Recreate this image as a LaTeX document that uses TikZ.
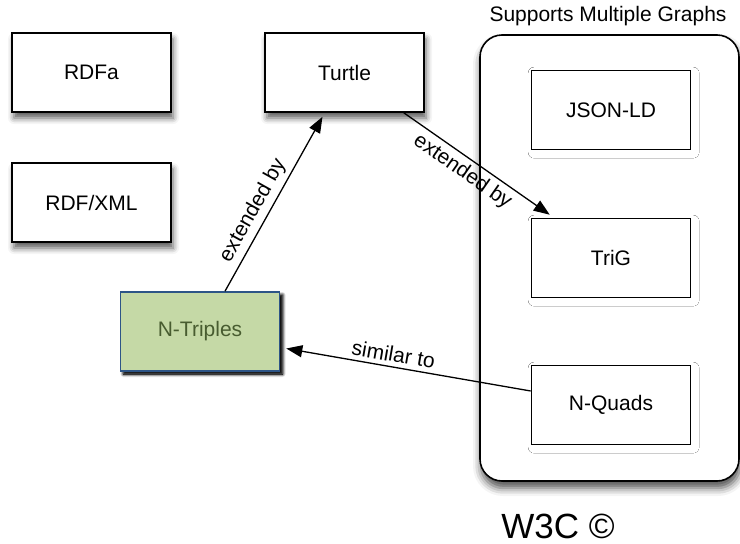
\documentclass[tikz,border=0pt]{standalone}
\usepackage{fontspec}
\setmainfont{Liberation Sans}
\usetikzlibrary{arrows.meta,shadows.blur}

\definecolor{ntfill}{RGB}{197,217,166}
\definecolor{ntedge}{RGB}{45,85,135}
\definecolor{nttext}{RGB}{72,92,48}

\tikzset{
	fmt/.style = {draw, line width=1.6pt, fill=white, minimum width=159pt, minimum height=79pt,
		font=\fontsize{21}{24}\selectfont,
		blur shadow={shadow xshift=2pt, shadow yshift=-6pt, shadow blur radius=6pt, shadow opacity=65}},
	rel/.style  = {->, line width=1.3pt},
	lbl/.style  = {font=\fontsize{21}{24}\selectfont, sloped}
}

\begin{document}
\begin{tikzpicture}[x=1pt, y=-1pt, >={Triangle[length=16pt, width=12pt]}]
	\useasboundingbox (0,0) rectangle (740,544);

	% the container for formats with several graphs
	\node (graphs) at (609.5, 258) [draw, line width=1.6pt, rounded corners=22pt, fill=white,
		minimum width=259pt, minimum height=446pt,
		blur shadow={shadow xshift=1pt, shadow yshift=-7pt, shadow blur radius=8pt, shadow opacity=70}] {};
	\node (multi) at (608, 16) [font=\fontsize{21}{24}\selectfont] {Supports Multiple Graphs};

	% syntaxes
	\node (rdfa)     at ( 91.5,  72.5)	[fmt]	{RDFa};
	\node (rdfxml)   at ( 91.5, 202.5)	[fmt]	{RDF/XML};
	\node (turtle)   at (344.5,  72.5)	[fmt]	{Turtle};
	\node (ntriples) at (200,   331.5)	[fmt, fill=ntfill, draw=ntedge, text=nttext,
		blur shadow={shadow xshift=3pt, shadow yshift=-3pt, shadow blur radius=3pt, shadow opacity=85}]	{N-Triples};
	\node (jsonld)   at (611,   110)	[fmt, blur shadow={shadow opacity=0}]	{JSON-LD};
	\node (trig)     at (611,   258)	[fmt, blur shadow={shadow opacity=0}]	{TriG};
	\node (nquads)   at (611,   405)	[fmt, blur shadow={shadow opacity=0}]	{N-Quads};

	% relations
	\draw[rel] ([xshift=25pt]ntriples.north) -- ([xshift=-22pt, yshift=-4pt]turtle.south)
		node[lbl, pos=0.42, above=1pt] {extended by};
	\draw[rel] ([xshift=-21pt]turtle.south east) -- ([xshift=19pt, yshift=3pt]trig.north west)
		node[lbl, pos=0.46, below=1pt] {extended by};
	\draw[rel] ([yshift=14pt]nquads.west) -- ([xshift=6pt, yshift=-17pt]ntriples.east)
		node[lbl, pos=0.57, above=1pt] {similar to};

	\node (w3c) at (558, 526) [font=\fontsize{35}{40}\selectfont] {W3C ©};
\end{tikzpicture}
\end{document}
